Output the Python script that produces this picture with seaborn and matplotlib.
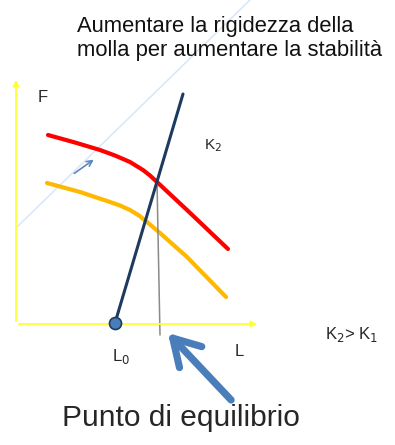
import numpy as np
import pandas as pd
import seaborn as sns
import matplotlib.pyplot as plt

# curve data, origin at the axis corner (L to the right, F upward)
red_L = [32, 59, 84, 99, 114, 127, 134, 141, 171, 212]
red_F = [189, 181.5, 174, 168.5, 162, 154, 148.5, 142, 114, 75]
orange_L = [31, 64, 94, 104, 114, 123, 131, 144, 171, 210]
orange_F = [141, 132, 122, 118.5, 114, 108.5, 102, 91, 67, 27]
spring_L = [99, 167]
spring_F = [1, 230]
eq_L = [141, 144]
eq_F = [142, -11]

sns.set_style("white")
plt.rcParams["font.family"] = ["Liberation Sans", "DejaVu Sans"]

fig = plt.figure(figsize=(3.95, 4.45), dpi=100)
ax = fig.add_axes([0, 0, 1, 1])
ax.set_xlim(-16, 379)
ax.set_ylim(-121, 324)
ax.axis("off")

# faint background stroke
ax.plot([1, 234], [97, 324], color="#dbe8f5", lw=1.2, zorder=0)

# axes with arrows
ax.annotate("", xy=(0, 247), xytext=(0, 0),
            arrowprops=dict(arrowstyle="-|>", color="#ffff33", lw=1.3, mutation_scale=9))
ax.annotate("", xy=(244, 0), xytext=(0, 0),
            arrowprops=dict(arrowstyle="-|>", color="#ffff33", lw=1.3, mutation_scale=9))

curves = pd.DataFrame({"L": red_L, "F": red_F})
sns.lineplot(data=curves, x="L", y="F", sort=False, color="#ff0000", lw=3.0,
             ax=ax, solid_joinstyle="round")
curves = pd.DataFrame({"L": orange_L, "F": orange_F})
sns.lineplot(data=curves, x="L", y="F", sort=False, color="#ffb800", lw=3.0,
             ax=ax, solid_joinstyle="round")
sns.lineplot(x=eq_L, y=eq_F, sort=False, color="#8a8a8a", lw=1.1, ax=ax)
sns.lineplot(x=spring_L, y=spring_F, sort=False, color="#1f3a5f", lw=2.2, ax=ax)
ax.scatter([spring_L[0]], [spring_F[0]], s=75, color="#4a7ebb", edgecolor="#1f3a5f",
           lw=1.2, zorder=5)

# small arrow showing the shift
ax.annotate("", xy=(80, 166), xytext=(56, 149),
            arrowprops=dict(arrowstyle="->", color="#5b87c5", lw=1.2, mutation_scale=10))
# big arrow to the equilibrium point
ax.annotate("", xy=(150, -7), xytext=(217, -78),
            arrowprops=dict(arrowstyle="->,head_length=0.85,head_width=0.5",
                            color="#4a7ebb", lw=5.2, mutation_scale=22,
                            capstyle="round", joinstyle="round"))

ax.text(61, 308, "Aumentare la rigidezza della\nmolla per aumentare la stabilità",
        fontsize=15.8, va="top", ha="left", linespacing=1.2, color="#111111")
ax.text(22, 226, "F", fontsize=12, va="center", ha="left")
ax.text(188, 178, "K$_2$", fontsize=11, va="center", ha="left")
ax.text(309, -11, "K$_2$> K$_1$", fontsize=12, va="center", ha="left")
ax.text(96, -32, "L$_0$", fontsize=12, va="center", ha="left")
ax.text(219, -28, "L", fontsize=12, va="center", ha="left")
ax.text(46, -94, "Punto di equilibrio", fontsize=21.5, va="center", ha="left")

plt.savefig("out.png", dpi=100)
